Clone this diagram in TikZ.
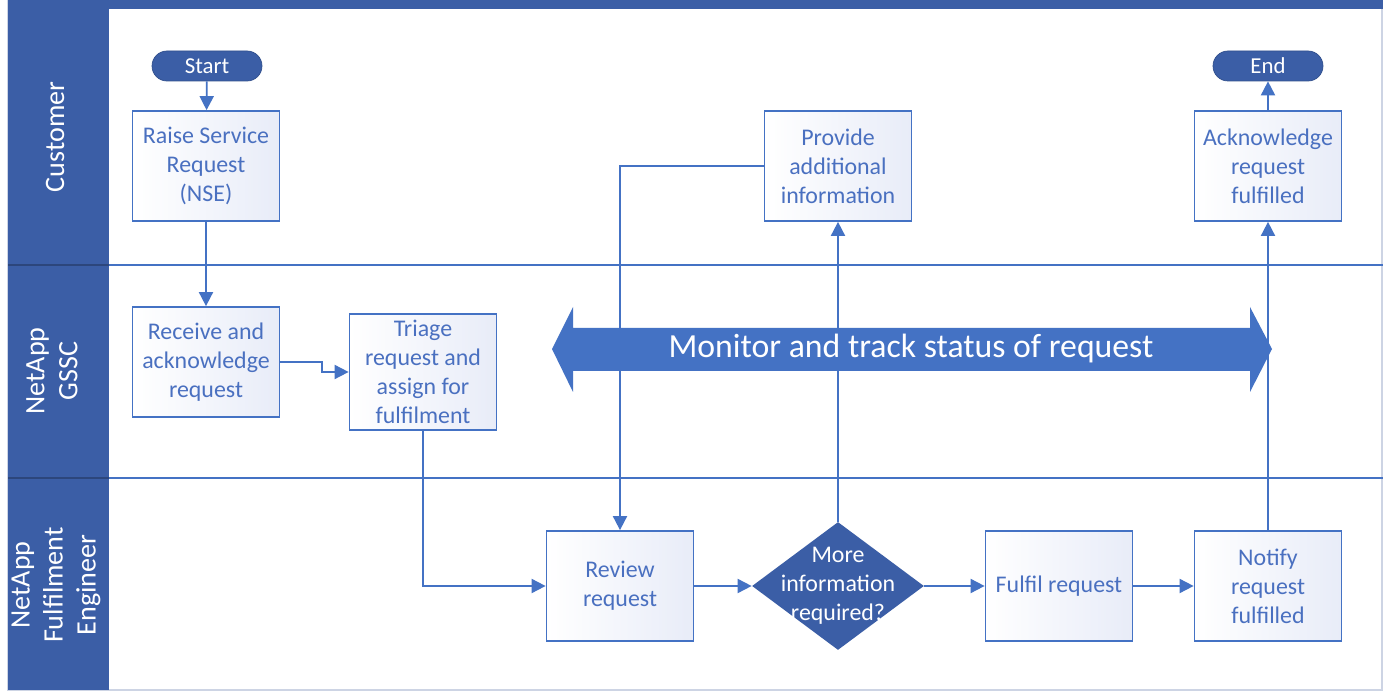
\documentclass[tikz,border=0pt]{standalone}
\usepackage{fontspec}
\setmainfont{Carlito}
\usetikzlibrary{arrows.meta}
\usetikzlibrary{shapes.geometric}

\definecolor{laneblue}{RGB}{59,94,166}
\definecolor{lineblue}{RGB}{68,114,196}
\definecolor{boxtext}{RGB}{74,112,192}
\definecolor{boxfill}{RGB}{232,236,248}
\definecolor{edgegray}{RGB}{205,212,228}

\tikzset{
  stepbox/.style={draw=lineblue, line width=1pt, left color=white, right color=boxfill,
    text=boxtext, minimum width=2.94cm, minimum height=2.2cm, align=center,
    font=\fontsize{13.6}{16.6}\selectfont},
  terminal/.style={fill=laneblue, draw=laneblue!85!black, rounded corners=8.5pt,
    minimum width=2.2cm, minimum height=0.6cm, inner sep=0pt, text=white,
    font=\fontsize{13}{14}\selectfont},
  decision/.style={diamond, fill=laneblue, inner sep=0pt, minimum width=3.44cm,
    minimum height=2.56cm},
  flow/.style={draw=lineblue, line width=1pt, -{Triangle[length=8pt,width=8pt]}},
  lanename/.style={rotate=90, text=white, align=center,
    font=\fontsize{16}{18.8}\selectfont},
}

\begin{document}
\begin{tikzpicture}[x=0.02cm, y=-0.02cm]
                \useasboundingbox (0,0) rectangle (1384,692);
                \fill[white] (0,0) rectangle (1384,692);

                % Pool frame
                \draw[edgegray, line width=1pt] (8,0) rectangle (1382,690);
                \fill[laneblue] (8,0) rectangle (1383,9);
                \fill[laneblue] (8,0) rectangle (109,690);

                % Lane dividers
                \draw[lineblue, line width=1pt] (109,265) -- (1383,265);
                \draw[lineblue, line width=1pt] (109,478) -- (1383,478);
                \draw[laneblue!75!black, line width=1pt] (8,265) -- (109,265);
                \draw[laneblue!75!black, line width=1pt] (8,478) -- (109,478);

                % Lane names
                \node[lanename] (lcust) at (55,137) {Customer};
                \node[lanename] (lgssc) at (52,371) {NetApp\\GSSC};
                \node[lanename] (lfulf) at (56,585) {NetApp\\Fulfilment\\Engineer};

                % Customer lane
                \node[terminal] (start) at (207,66) {Start};
                \node[stepbox] (raise) at (206,166) {Raise Service\\Request\\(NSE)};
                \node[stepbox] (provide) at (838,166) {Provide\\additional\\information};
                \node[stepbox] (ack) at (1268,166) {Acknowledge\\request\\fulfilled};
                \node[terminal] (finish) at (1268,66) {End};

                % GSSC lane
                \node[stepbox] (receive) at (206,362) {Receive and\\acknowledge\\request};
                \node[stepbox] (triage) at (423,372) {Triage\\request and\\assign for\\fulfilment};

                % Fulfilment lane
                \node[stepbox] (review) at (620,586) {Review\\request};
                \node[decision, label={[text=white, align=center,
                    font=\fontsize{13.6}{16.6}\selectfont]center:{More\\information\\required?}}]
                    (query) at (838,586) {};
                \node[stepbox] (fulfil) at (1059,586) {Fulfil request};
                \node[stepbox] (notify) at (1268,586) {Notify\\request\\fulfilled};

                % Connectors
                \draw[flow] (start) -- (raise);
                \draw[flow] (raise) -- (receive);
                \draw[flow] (receive.east) -- ++(42,0) -- ++(0,10) -- (triage.west);
                \draw[flow] (triage.south) |- (review.west);
                \draw[flow] (review) -- (query);
                \draw[flow] (query) -- (fulfil);
                \draw[flow] (fulfil) -- (notify);
                \draw[flow] (query.north) -- (provide.south);
                \draw[flow] (provide.west) -| (review.north);
                \draw[flow] (notify) -- (ack);
                \draw[flow] (ack) -- (finish);

                % Monitor arrow
                \fill[lineblue] (552,349) -- (573,307) -- (573,328) -- (1250,328) -- (1250,307)
                  -- (1272,349) -- (1250,392) -- (1250,371) -- (573,371) -- (573,392) -- cycle;
                \node[text=white, font=\fontsize{19.2}{21}\selectfont] (monitor) at (911,349)
                  {Monitor and track status of request};
\end{tikzpicture}
\end{document}
